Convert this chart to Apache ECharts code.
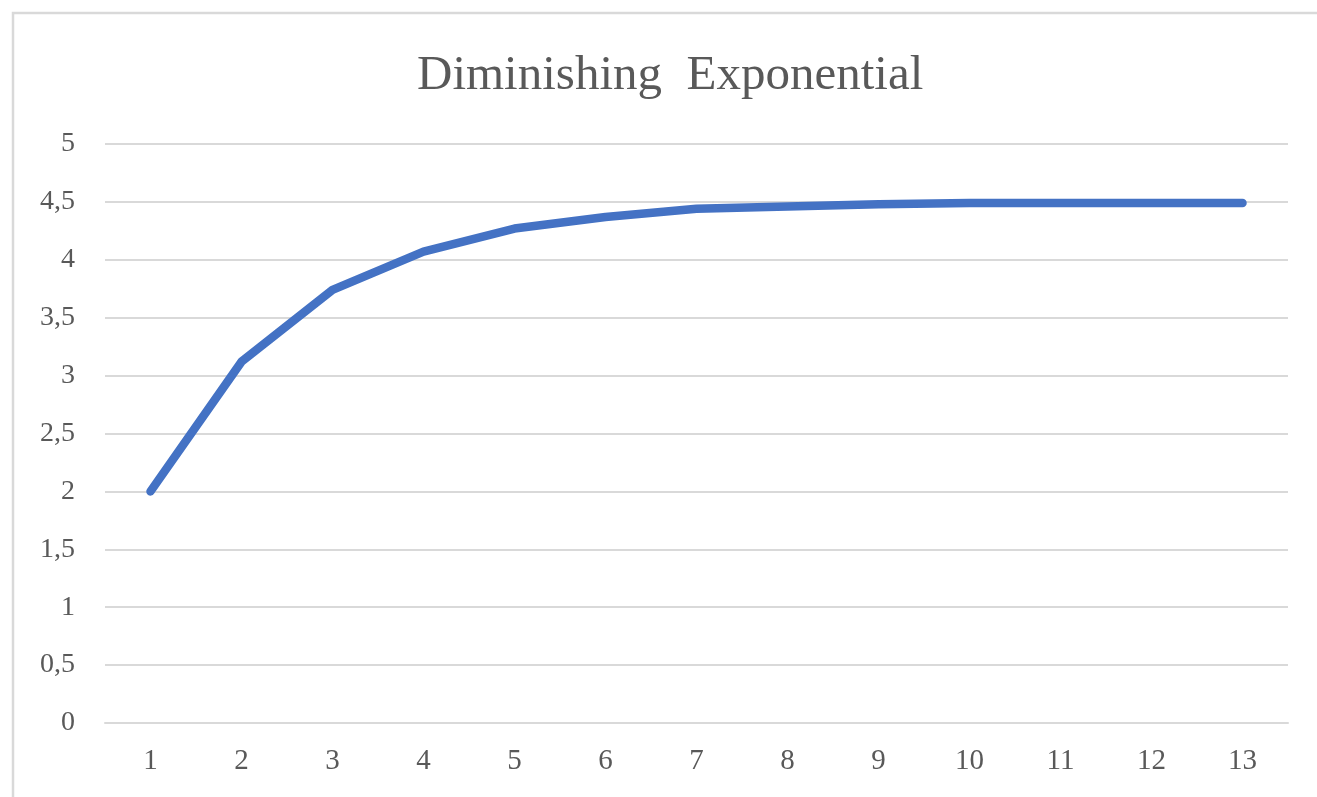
<!DOCTYPE html>
<html>
<head>
<meta charset="utf-8">
<title>Diminishing Exponential</title>
<script src="https://cdn.jsdelivr.net/npm/echarts@6/dist/echarts.min.js"></script>
<style>
  html, body { margin: 0; padding: 0; background: #ffffff; }
  #chart { width: 1317px; height: 797px; }
</style>
</head>
<body>
<div id="chart"></div>
<script>
// Categories along the x axis
const categories = ['1', '2', '3', '4', '5', '6', '7', '8', '9', '10', '11', '12', '13'];
// Series values
const values = [2.0, 3.12, 3.74, 4.07, 4.27, 4.37, 4.44, 4.46, 4.48, 4.49, 4.49, 4.49, 4.49];
// Value axis range
const yMin = 0;
const yMax = 5;
const yStep = 0.5;

const textColor = '#595959';
const gridColor = '#d9d9d9';
const serif = '"Liberation Serif", "Times New Roman", serif';

const chart = echarts.init(document.getElementById('chart'), null, { renderer: 'canvas' });

chart.setOption({
  backgroundColor: '#ffffff',
  animation: false,
  graphic: [{
    type: 'rect',
    shape: { x: 13, y: 13, width: 1330, height: 820 },
    style: { fill: 'none', stroke: gridColor, lineWidth: 2.5 },
    silent: true
  }],
  title: {
    text: 'Diminishing  Exponential',
    left: 412,
    top: 47,
    textStyle: {
      fontFamily: serif,
      fontWeight: 'normal',
      fontSize: 49,
      color: textColor
    }
  },
  grid: {
    left: 105,
    right: 29,
    top: 144,
    bottom: 74,
    containLabel: false
  },
  xAxis: {
    type: 'category',
    data: categories,
    boundaryGap: true,
    axisLine: { show: true, lineStyle: { color: gridColor, width: 2 } },
    axisTick: { show: false },
    axisLabel: {
      margin: 24,
      fontFamily: serif,
      fontSize: 29,
      color: textColor
    },
    splitLine: { show: false }
  },
  yAxis: {
    type: 'value',
    min: yMin,
    max: yMax,
    interval: yStep,
    axisLine: { show: false },
    axisTick: { show: false },
    axisLabel: {
      margin: 30,
      fontFamily: serif,
      fontSize: 28,
      color: textColor,
      formatter: v => String(v).replace('.', ',')
    },
    splitLine: { show: true, lineStyle: { color: gridColor, width: 2 } }
  },
  series: [{
    type: 'line',
    data: values,
    symbol: 'none',
    smooth: false,
    lineStyle: { color: '#4472c4', width: 8.5, cap: 'round', join: 'round' },
    itemStyle: { color: '#4472c4' }
  }]
});
</script>
</body>
</html>
